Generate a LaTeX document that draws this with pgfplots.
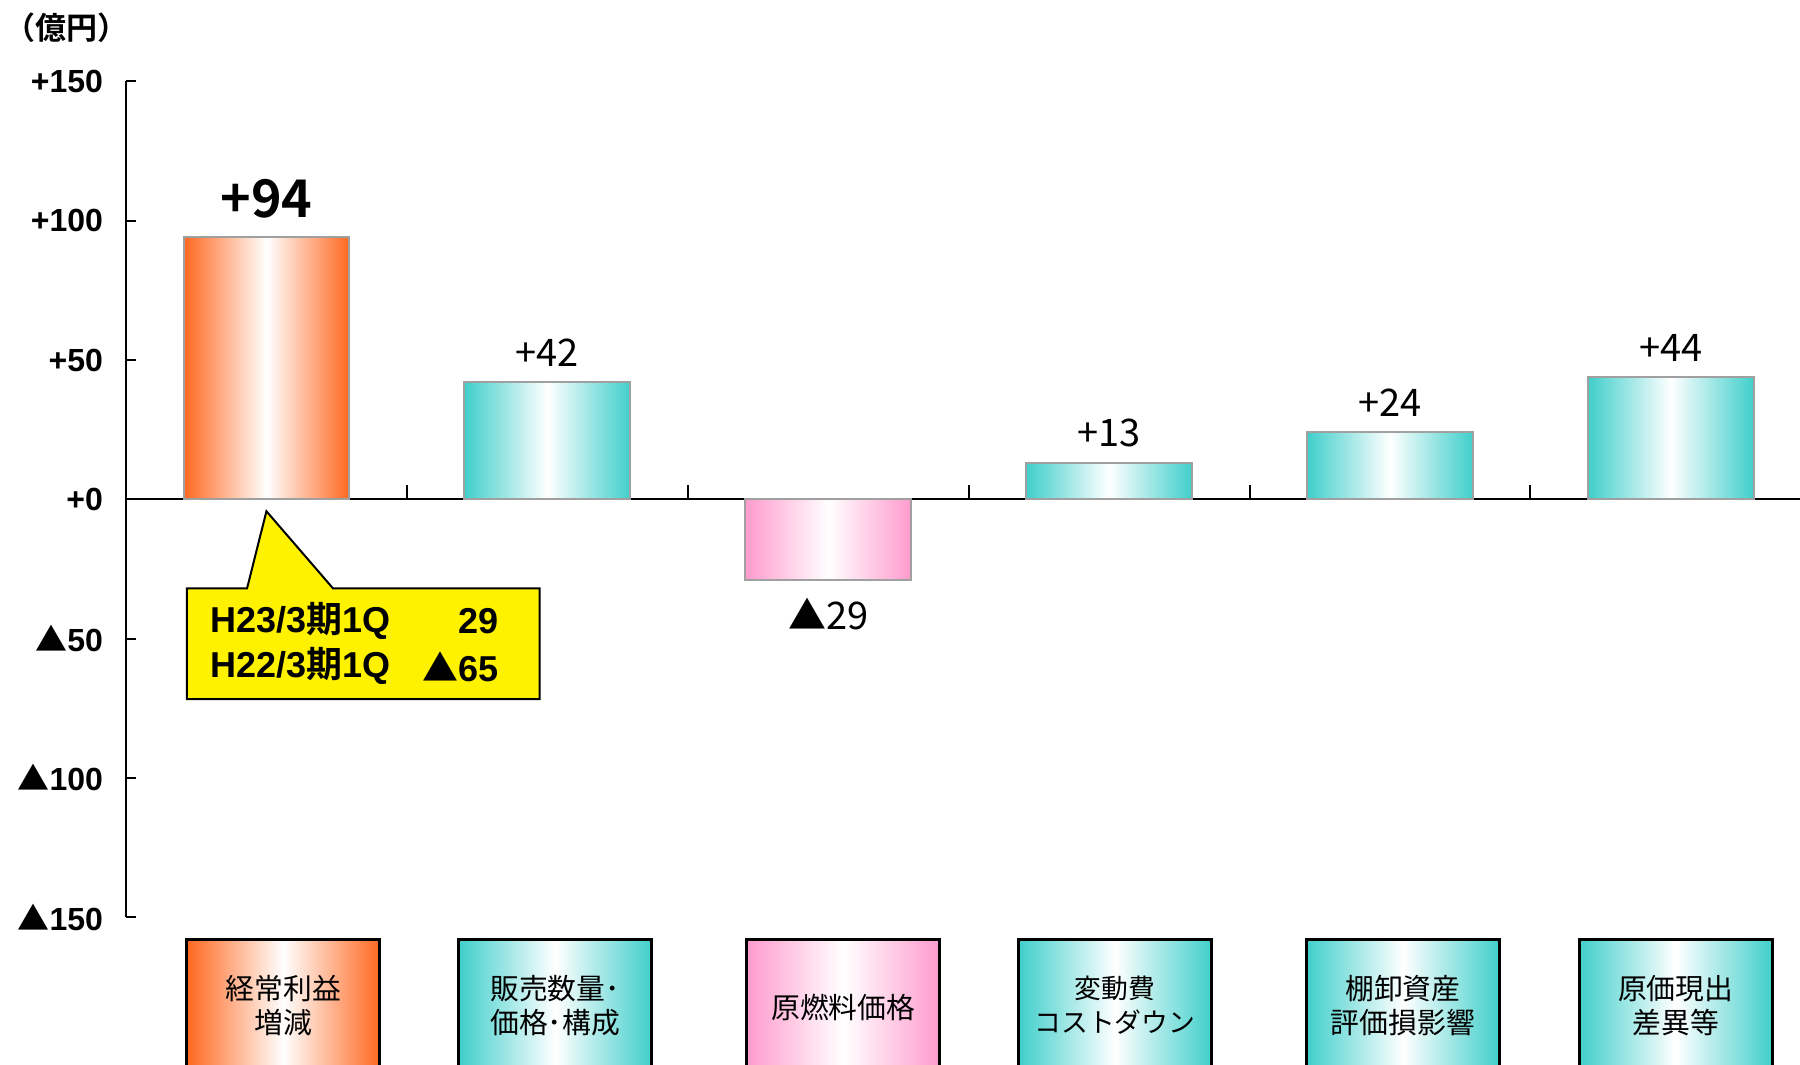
\documentclass[border=0pt]{standalone}
\usepackage{fontspec}
\setmainfont{Liberation Sans}
\newfontfamily\jp{Noto Sans CJK JP}[BoldFont={Noto Sans CJK JP Bold}]
\usepackage{pgfplots}
\pgfplotsset{compat=1.18}

\definecolor{orng}{RGB}{255,104,32}
\definecolor{tealc}{RGB}{64,207,203}
\definecolor{pnk}{RGB}{255,155,205}
\definecolor{edge}{RGB}{160,160,160}

\pgfplotsset{
  gbar/.style={ybar, bar width=0.59, bar shift=0pt, draw=edge, line width=1pt,
    left color=#1, right color=#1, middle color=white},
}
\tikzset{
  gbox/.style={line width=1.5pt, left color=#1, right color=#1, middle color=white},
}

\begin{document}
\begin{tikzpicture}
\begin{axis}[
  scale only axis, width=837pt, height=417.75pt,
  xmin=-0.5, xmax=5.46, ymin=-150, ymax=150,
  axis x line=middle, axis y line=left,
  axis line style={-, line width=1pt},
  hide obscured y ticks=false,
  xtick=\empty,
  ytick={-150,-100,-50,0,50,100,150},
  yticklabels={{\jp ▲}150,{\jp ▲}100,{\jp ▲}50,+0,+50,+100,+150},
  yticklabel style={font=\bfseries\fontsize{16}{16}\selectfont, xshift=-8pt},
  tick align=inside, major tick length=5pt,
  tick style={line width=1pt, black},
  clip=false,
  point meta=explicit symbolic,
  nodes near coords,
  nodes near coords style={font=\jp\fontsize{19}{19}\selectfont, text=black, anchor=south, yshift=4pt},
]
% bars, one plot each so every bar gets its own shading
\addplot[gbar=orng,
  nodes near coords style={font=\jp\bfseries\fontsize{26}{26}\selectfont, yshift=2pt}]
  coordinates {(0,94) [+94]};
\addplot[gbar=tealc] coordinates {(1,42) [+42]};
\addplot[gbar=pnk, nodes near coords style={anchor=north, yshift=-9pt}]
  coordinates {(2,-29) [▲29]};
\addplot[gbar=tealc] coordinates {(3,13) [+13]};
\addplot[gbar=tealc] coordinates {(4,24) [+24]};
\addplot[gbar=tealc] coordinates {(5,44) [+44]};

% x ticks between categories
\draw[line width=1pt] (axis cs:0.5,0) -- ([yshift=7pt]axis cs:0.5,0);
\draw[line width=1pt] (axis cs:1.5,0) -- ([yshift=7pt]axis cs:1.5,0);
\draw[line width=1pt] (axis cs:2.5,0) -- ([yshift=7pt]axis cs:2.5,0);
\draw[line width=1pt] (axis cs:3.5,0) -- ([yshift=7pt]axis cs:3.5,0);
\draw[line width=1pt] (axis cs:4.5,0) -- ([yshift=7pt]axis cs:4.5,0);

% callout
\draw[fill=yellow, line width=1pt] (axis cs:-0.283,-32) -- (axis cs:-0.069,-32)
  -- (axis cs:0,-4.3) -- (axis cs:0.237,-32) -- (axis cs:0.973,-32)
  -- (axis cs:0.973,-71.8) -- (axis cs:-0.283,-71.8) -- cycle;
\node[anchor=west, font=\bfseries\fontsize{18}{18}\selectfont] at (axis cs:-0.225,-43.8) {H23/3{\jp 期}1Q};
\node[anchor=west, font=\bfseries\fontsize{18}{18}\selectfont] at (axis cs:-0.225,-60) {H22/3{\jp 期}1Q};
\node[anchor=east, font=\bfseries\fontsize{18}{18}\selectfont] at (axis cs:0.85,-43.8) {29};
\node[anchor=east, font=\bfseries\fontsize{18}{18}\selectfont] at (axis cs:0.85,-60) {{\jp ▲}65};

% category boxes
\draw[gbox=orng] (axis cs:-0.283,-158) rectangle (axis cs:0.404,-215);
\draw[gbox=tealc] (axis cs:0.685,-158) rectangle (axis cs:1.372,-215);
\draw[gbox=pnk] (axis cs:1.710,-158) rectangle (axis cs:2.397,-215);
\draw[gbox=tealc] (axis cs:2.678,-158) rectangle (axis cs:3.365,-215);
\draw[gbox=tealc] (axis cs:3.703,-158) rectangle (axis cs:4.390,-215);
\draw[gbox=tealc] (axis cs:4.674,-158) rectangle (axis cs:5.361,-215);
\begin{scope}[every node/.style={font=\jp\fontsize{14.4}{17}\selectfont, align=center}]
\node at (axis cs:0.060,-181.8) {経常利益\\増減};
\node at (axis cs:1.028,-181.8) {販売数量･\\価格･構成};
\node at (axis cs:2.054,-182.4) {原燃料価格};
\node[font=\jp\fontsize{13.4}{17}\selectfont] at (axis cs:3.021,-181.8) {変動費\\コストダウン};
\node at (axis cs:4.046,-181.8) {棚卸資産\\評価損影響};
\node at (axis cs:5.017,-181.8) {原価現出\\差異等};
\end{scope}

\coordinate (BL) at (rel axis cs:0,0);
\coordinate (TR) at (rel axis cs:1,1);
\coordinate (TL) at (rel axis cs:0,1);
\end{axis}
\node[anchor=west, font=\jp\bfseries\fontsize{15.5}{15.5}\selectfont, inner sep=0pt] at ([shift={(-61pt,27pt)}]TL) {（億円）};
\pgfresetboundingbox
\path ([shift={(-63pt,-73.5pt)}]BL) rectangle ([shift={(0pt,40.75pt)}]TR);
\end{tikzpicture}
\end{document}
